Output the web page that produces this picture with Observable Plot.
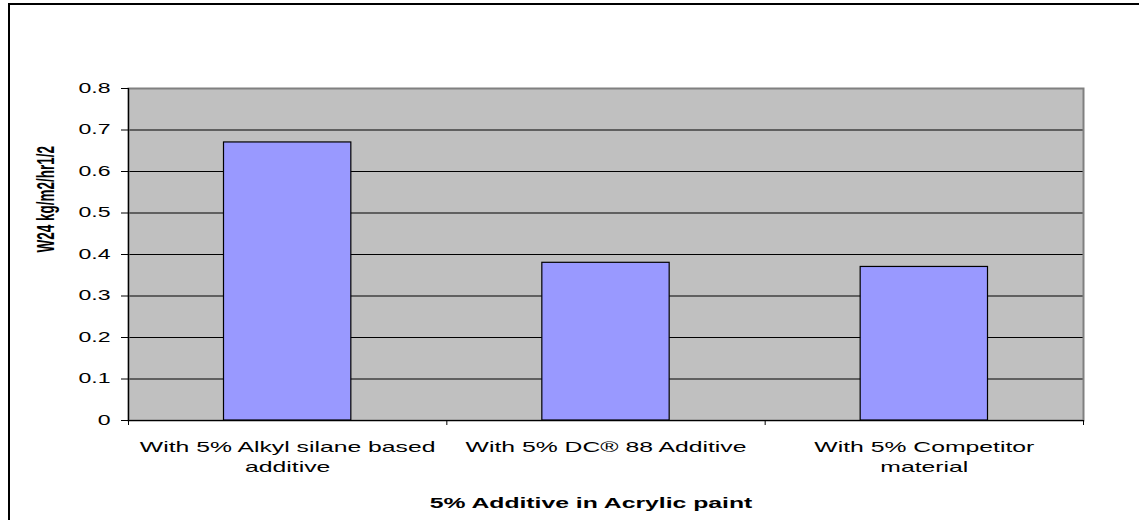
<!DOCTYPE html>
<html>
<head>
<meta charset="utf-8">
<script src="https://cdn.jsdelivr.net/npm/d3@7"></script>
<script src="https://cdn.jsdelivr.net/npm/@observablehq/plot@0.6"></script>
<style>
  html, body { margin: 0; padding: 0; background: #fff; overflow: hidden; }
  #wrap { position: relative; width: 1139px; height: 520px; overflow: hidden; }
  #border { position: absolute; left: 8px; top: 3px; width: 2000px; height: 2000px;
            border-left: 2px solid #000; border-top: 2px solid #000; }
  #chart { position: absolute; left: 0; top: 0; }
</style>
</head>
<body>
<div id="wrap"><div id="border"></div><div id="chart"></div></div>
<script>
const categories = ["With 5% Alkyl silane based additive", "With 5% DC® 88 Additive", "With 5% Competitor material"];
const categoryLabels = ["With 5% Alkyl silane based\nadditive", "With 5% DC® 88 Additive", "With 5% Competitor\nmaterial"];
const values = [0.67, 0.38, 0.37];
const yTicks = [0, 0.1, 0.2, 0.3, 0.4, 0.5, 0.6, 0.7, 0.8];
const yTickLabels = ["0", "0.1", "0.2", "0.3", "0.4", "0.5", "0.6", "0.7", "0.8"];
const xTitle = "5% Additive in Acrylic paint";
const yTitle = "W24 kg/m2/hr1/2";

const data = categories.map((c, i) => ({i, category: c, label: categoryLabels[i], value: values[i]}));
const boundaries = d3.range(categories.length + 1);

const chart = Plot.plot({
  width: 1139,
  height: 520,
  marginLeft: 128,
  marginRight: 56,
  marginTop: 88,
  marginBottom: 100,
  style: {fontFamily: "'Liberation Sans', Arial, sans-serif", background: "transparent", overflow: "visible"},
  x: {type: "linear", domain: [0, categories.length], axis: null},
  y: {domain: [0, 0.8], axis: null},
  marks: [
    Plot.frame({fill: "#C0C0C0", stroke: "none"}),
    Plot.gridY(yTicks, {stroke: "#000", strokeOpacity: 1, strokeWidth: 1}),
    Plot.frame({stroke: "#808080", strokeWidth: 2}),
    Plot.rectY(data, {x1: d => d.i + 0.3, x2: d => d.i + 0.7, y: "value", fill: "#9999FF", stroke: "#000", strokeWidth: 1.2}),
    Plot.ruleX([0], {stroke: "#000", strokeWidth: 1.2}),
    Plot.ruleY([0], {stroke: "#000", strokeWidth: 1.2}),
    Plot.axisY({ticks: yTicks, tickFormat: d => yTickLabels[yTicks.indexOf(d)], tickSize: 7, tickPadding: 11,
      fontSize: 14, stroke: "#000", color: "#000", label: null}),
    Plot.axisX({ticks: boundaries, tickFormat: () => "", tickSize: 5, stroke: "#000", label: null}),
    Plot.text(data, {x: d => d.i + 0.5, text: "label", frameAnchor: "bottom", lineAnchor: "top", dy: 17,
      lineHeight: 1.33, fontSize: 15, fill: "#000"}),
    Plot.text([xTitle], {frameAnchor: "bottom", dy: 87, dx: -15, fontSize: 15, fontWeight: "bold", fill: "#000"}),
    Plot.text([yTitle], {frameAnchor: "left", dx: -82, dy: -2, rotate: -90, fontSize: 15, fontWeight: "bold", fill: "#000"})
  ]
});

// Horizontally stretched text, as in the reference
chart.querySelectorAll("text").forEach(t => {
  const tr = t.getAttribute("transform");
  if (!tr) return;
  const sc = /rotate/.test(tr) ? "scale(1.65,0.9)" : "scale(1.65,1)";
  t.setAttribute("transform", tr.replace(/^(translate\([^)]*\))/, "$1 " + sc));
});

document.getElementById("chart").appendChild(chart);
</script>
</body>
</html>
